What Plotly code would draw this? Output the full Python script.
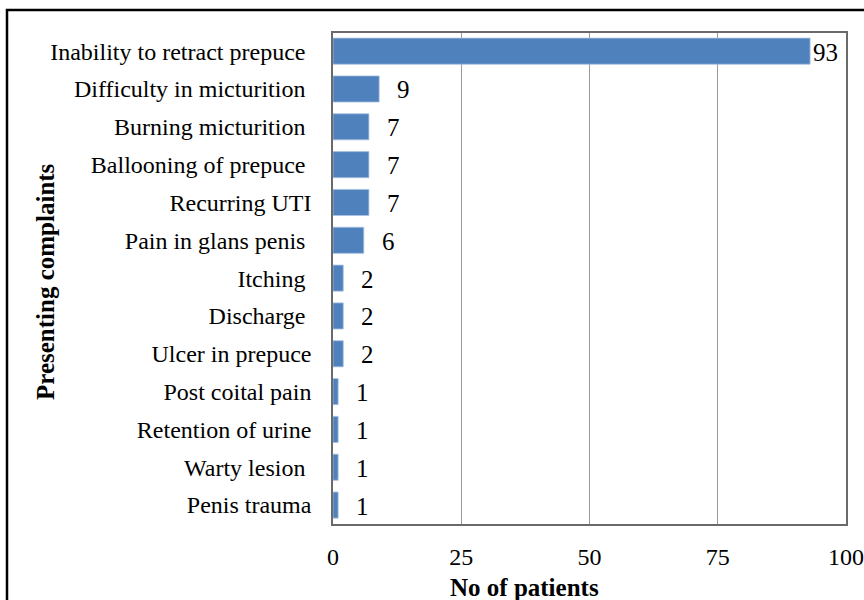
import plotly.graph_objects as go

NB = "\u00a0"
categories = ["Inability to retract prepuce" + NB, "Difficulty in micturition" + NB, "Burning micturition" + NB,
              "Ballooning of prepuce" + NB, "Recurring UTI", "Pain in glans penis" + NB, "Itching" + NB,
              "Discharge" + NB, "Ulcer in prepuce", "Post coital pain", "Retention of urine",
              "Warty lesion" + NB, "Penis trauma"]
values = [93, 9, 7, 7, 7, 6, 2, 2, 2, 1, 1, 1, 1]
x_ticks = [0, 25, 50, 75, 100]

FONT = "Liberation Serif, Times New Roman, serif"

L, R, T, B = 333, 18, 33, 76
PW, PH = 864 - L - R, 600 - T - B

fig = go.Figure()
fig.add_trace(go.Bar(
    y=categories, x=values, orientation="h",
    marker=dict(color="#4F81BD", line=dict(color="#A9C1E0", width=0.8)),
    width=0.69, hoverinfo="skip",
))

for c, v in zip(categories, values):
    fig.add_annotation(x=v, y=c, text=str(v), showarrow=False, xanchor="left",
                       xshift=1 if v > 50 else 16, yshift=-1,
                       font=dict(size=25, color="#000", family=FONT))

# axis titles
fig.add_annotation(xref="paper", yref="paper", x=(524.5 - L) / PW, y=-(587 - 524) / PH,
                   text="<b>No of patients</b>", showarrow=False, xanchor="center", yanchor="middle",
                   font=dict(size=25, color="#000", family=FONT))
fig.add_annotation(xref="paper", yref="paper", x=(45 - L) / PW, y=1 - (282 - T) / PH,
                   text="<b>Presenting complaints</b>", showarrow=False, textangle=-90,
                   xanchor="center", yanchor="middle",
                   font=dict(size=25, color="#000", family=FONT))

fig.add_shape(type="rect", xref="paper", yref="paper",
              x0=(7 - L) / PW, x1=(875 - L) / PW,
              y0=-(620 - 524) / PH, y1=1 + (T - 10) / PH,
              line=dict(color="#000", width=2.5), fillcolor="rgba(0,0,0,0)", layer="below")

fig.update_layout(
    width=864, height=600,
    margin=dict(l=L, r=R, t=T, b=B),
    paper_bgcolor="white", plot_bgcolor="white",
    showlegend=False,
    font=dict(family=FONT, size=24, color="#000"),
    xaxis=dict(range=[0, 100], tickvals=x_ticks, showgrid=True, gridcolor="#9a9a9a", gridwidth=1,
               showline=True, linecolor="#6a6a6a", linewidth=1.5, mirror=True, zeroline=False,
               ticks="", ticklabelstandoff=10, tickfont=dict(size=24, family=FONT),
               automargin=False, fixedrange=True),
    yaxis=dict(showline=True, linecolor="#6a6a6a", linewidth=1.5, mirror=True,
               ticks="", ticklabelstandoff=15, tickfont=dict(size=24, family=FONT),
               automargin=False, range=[12.5, -0.48], fixedrange=True),
)

fig.write_html("out.html", config={"displayModeBar": False},
               post_script="document.body.style.margin='0';document.body.style.overflow='hidden';")
